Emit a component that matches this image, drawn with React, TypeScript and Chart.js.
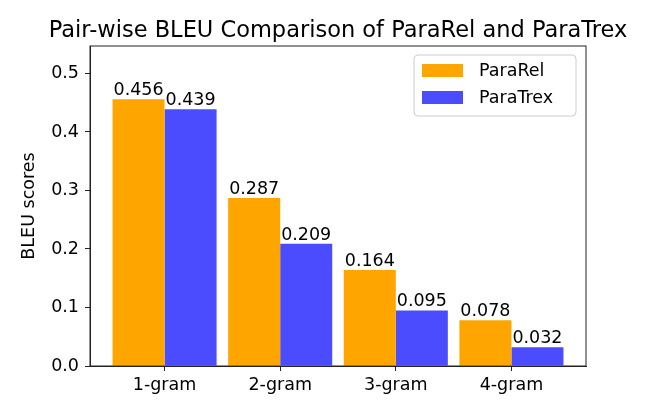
import { useEffect, useRef } from "react";
import { Chart, registerables, Plugin } from "chart.js";

Chart.register(...registerables);

const categories = ["1-gram", "2-gram", "3-gram", "4-gram"];
const paraRel = [0.456, 0.287, 0.164, 0.078];
const paraTrex = [0.439, 0.209, 0.095, 0.032];
const yTicks = [0.0, 0.1, 0.2, 0.3, 0.4, 0.5];
const chartTitle = "Pair-wise BLEU Comparison of ParaRel and ParaTrex";

const FONT = "DejaVu Sans";
const FONT_SIZE = 17.5;
const ORANGE = "#ffa500";
const BLUE = "rgba(0, 0, 255, 0.7)";

// title centred over the axes (not the whole canvas), like matplotlib
const axesTitle: Plugin<"bar"> = {
  id: "axesTitle",
  afterDraw(chart) {
    const { ctx, chartArea: a } = chart;
    ctx.save();
    ctx.font = `22.5px "${FONT}"`;
    ctx.fillStyle = "#000";
    ctx.textAlign = "center";
    ctx.textBaseline = "alphabetic";
    ctx.fillText(chartTitle, (a.left + a.right) / 2, 37);
    ctx.restore();
  },
};

// matplotlib-like box around the axes
const framePlugin: Plugin<"bar"> = {
  id: "frame",
  afterDatasetsDraw(chart) {
    const { ctx, chartArea: a } = chart;
    ctx.save();
    ctx.strokeStyle = "#222";
    ctx.lineWidth = 1;
    ctx.strokeRect(a.left, a.top, a.right - a.left, a.bottom - a.top);
    ctx.restore();
  },
};

// value text on top of each bar
const barLabels: Plugin<"bar"> = {
  id: "barLabels",
  afterDatasetsDraw(chart) {
    const { ctx } = chart;
    ctx.save();
    ctx.font = `${FONT_SIZE}px "${FONT}"`;
    ctx.fillStyle = "#000";
    ctx.textAlign = "center";
    ctx.textBaseline = "alphabetic";
    chart.data.datasets.forEach((ds, i) => {
      chart.getDatasetMeta(i).data.forEach((bar, j) => {
        const v = (ds.data[j] as { x: number; y: number }).y;
        ctx.fillText(v.toFixed(3), bar.x, bar.y - 4);
      });
    });
    ctx.restore();
  },
};

// legend inside the upper right corner of the axes
const innerLegend: Plugin<"bar"> = {
  id: "innerLegend",
  afterDraw(chart) {
    const { ctx, chartArea: a } = chart;
    const items = chart.data.datasets.map((ds) => ({
      label: ds.label as string,
      color: ds.backgroundColor as string,
    }));
    ctx.save();
    ctx.font = `${FONT_SIZE}px "${FONT}"`;
    const textW = Math.max(...items.map((it) => ctx.measureText(it.label).width));
    const w = Math.max(162, 8 + 41 + 16 + textW + 10);
    const h = 61;
    const x = a.right - 10 - w;
    const y = a.top + 9;
    ctx.beginPath();
    ctx.roundRect(x, y, w, h, 4);
    ctx.fillStyle = "rgba(255,255,255,0.8)";
    ctx.fill();
    ctx.strokeStyle = "#cccccc";
    ctx.lineWidth = 1;
    ctx.stroke();
    items.forEach((it, i) => {
      const py = y + 9 + i * 27;
      ctx.fillStyle = it.color;
      ctx.fillRect(x + 8, py, 41, 13);
      ctx.fillStyle = "#000";
      ctx.textAlign = "left";
      ctx.textBaseline = "middle";
      ctx.fillText(it.label, x + 65, py + 7);
    });
    ctx.restore();
  },
};

export default function App() {
  const canvasRef = useRef<HTMLCanvasElement>(null);

  useEffect(() => {
    document.body.style.margin = "0";
    const tickFont = { family: FONT, size: FONT_SIZE };
    const chart = new Chart(canvasRef.current!, {
      type: "bar",
      data: {
        datasets: [
          {
            label: "ParaRel",
            data: paraRel.map((v, i) => ({ x: i, y: v })),
            backgroundColor: ORANGE,
          },
          {
            label: "ParaTrex",
            data: paraTrex.map((v, i) => ({ x: i, y: v })),
            backgroundColor: BLUE,
          },
        ],
      },
      options: {
        responsive: false,
        animation: false,
        layout: { padding: { left: 0, right: 78, top: 46, bottom: 0 } },
        datasets: { bar: { categoryPercentage: 0.9, barPercentage: 1.0 } },
        scales: {
          x: {
            type: "linear",
            min: -0.645,
            max: 3.645,
            offset: false,
            afterBuildTicks: (axis) => {
              axis.ticks = categories.map((_, i) => ({ value: i }));
            },
            afterFit: (axis) => {
              axis.height = 49;
            },
            ticks: {
              callback: (v) => categories[v as number] ?? "",
              font: tickFont,
              color: "#000",
              padding: 4,
              autoSkip: false,
              maxRotation: 0,
            },
            grid: { offset: false, drawOnChartArea: false, tickLength: 5, color: "#222" },
            border: { display: true, color: "#222" },
          },
          y: {
            min: 0,
            max: 0.547,
            afterBuildTicks: (axis) => {
              axis.ticks = yTicks.map((v) => ({ value: v }));
            },
            afterFit: (axis) => {
              axis.width = 90;
            },
            ticks: {
              callback: (v) => Number(v).toFixed(1),
              font: tickFont,
              color: "#000",
              padding: 6,
            },
            grid: { drawOnChartArea: false, tickLength: 5, color: "#222" },
            border: { display: true, color: "#222" },
            title: {
              display: true,
              text: "BLEU scores",
              font: tickFont,
              color: "#000",
              padding: { top: 19, bottom: 0 },
            },
          },
        },
        plugins: {
          legend: { display: false },
          tooltip: { enabled: false },
          title: { display: false },
        },
      },
      plugins: [framePlugin, barLabels, innerLegend, axesTitle],
    });
    return () => {
      chart.destroy();
    };
  }, []);

  return (
    <div style={{ width: 664, height: 415 }}>
      <canvas ref={canvasRef} width={664} height={415}></canvas>
    </div>
  );
}
